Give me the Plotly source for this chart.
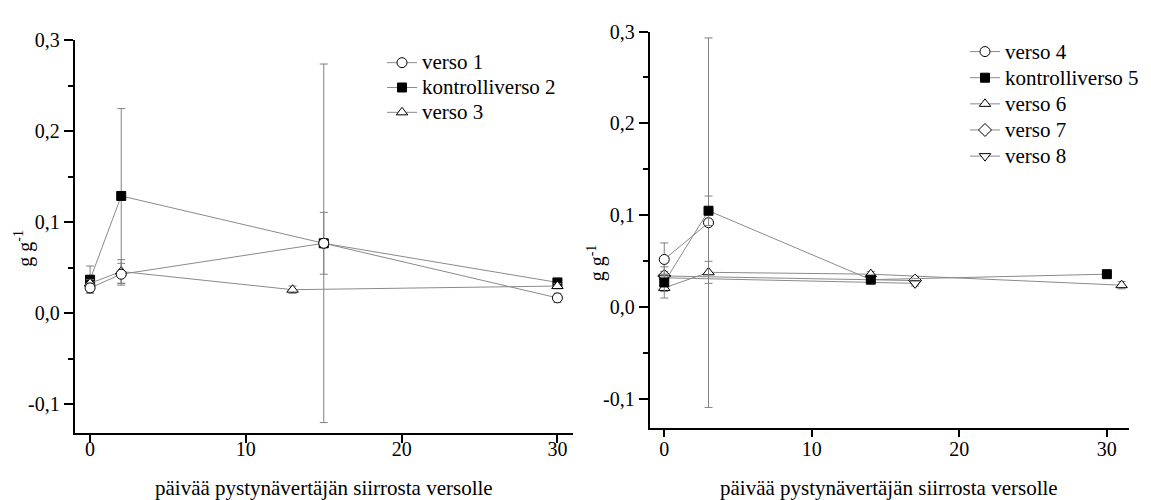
import plotly.graph_objects as go

# ---- left panel data ----
v1_x = [0, 2, 15, 30]
v1_y = [0.028, 0.043, 0.077, 0.017]
v1_e = [0.005, 0.012, 0.034, 0.005]

k2_x = [0, 2, 15, 30]
k2_y = [0.037, 0.129, 0.077, 0.034]
k2_e = [0.015, 0.096, 0.197, 0.003]

v3_x = [0, 2, 13, 30]
v3_y = [0.033, 0.046, 0.026, 0.030]
v3_e = [0.004, 0.013, 0.004, 0.003]

# ---- right panel data ----
v4_x = [0, 3]
v4_y = [0.052, 0.092]
v4_e = [0.018, 0.201]

k5_x = [0, 3, 14, 30]
k5_y = [0.027, 0.105, 0.030, 0.036]
k5_e = [0.017, 0.016, 0.003, 0.003]

v6_x = [0, 3, 14, 31]
v6_y = [0.021, 0.038, 0.036, 0.024]
v6_e = [0.004, 0.012, 0.003, 0.004]

v7_x = [0, 17]
v7_y = [0.034, 0.029]
v7_e = [0.005, 0.004]

v8_x = [0, 17]
v8_y = [0.032, 0.026]
v8_e = [0.004, 0.003]

y_tickvals = [-0.1, 0.0, 0.1, 0.2, 0.3]
y_ticktext = ["-0,1", "0,0", "0,1", "0,2", "0,3"]
x_tickvals = [0, 10, 20, 30]
x_title = "päivää pystynävertäjän siirrosta versolle"
y_title = "g g<sup>-1</sup>"

FONT = "Liberation Serif"
LINE = "#8a8a8a"
ERR = "#808080"
W, H = 1151, 500
LEGEND_TEXT_PX = 21


def label(name):
    # legend rows are spaced from the legend font size; the entry text itself is larger
    return f'<span style="font-size:{LEGEND_TEXT_PX}px">{name}</span>'


def series(x, y, e, name, symbol, fill, size, xa, ya, legend, rank):
    return go.Scatter(
        x=x, y=y, name=label(name), mode="lines+markers",
        xaxis=xa, yaxis=ya, legend=legend, legendrank=rank,
        line=dict(color=LINE, width=1),
        marker=dict(symbol=symbol, size=size, color=fill,
                    line=dict(color="black", width=1)),
        error_y=dict(type="data", array=e, visible=True,
                     color=ERR, thickness=1, width=4),
    )


fig = go.Figure()
# left panel (draw order chosen so circles sit on top)
fig.add_trace(series(k2_x, k2_y, k2_e, "kontrolliverso 2", "square", "black", 9, "x", "y", "legend", 2))
fig.add_trace(series(v3_x, v3_y, v3_e, "verso 3", "triangle-up", "white", 10, "x", "y", "legend", 3))
fig.add_trace(series(v1_x, v1_y, v1_e, "verso 1", "circle", "white", 10, "x", "y", "legend", 1))
# right panel
fig.add_trace(series(v6_x, v6_y, v6_e, "verso 6", "triangle-up", "white", 10, "x2", "y2", "legend2", 3))
fig.add_trace(series(v7_x, v7_y, v7_e, "verso 7", "diamond", "white", 10, "x2", "y2", "legend2", 4))
fig.add_trace(series(v8_x, v8_y, v8_e, "verso 8", "triangle-down", "white", 10, "x2", "y2", "legend2", 5))
fig.add_trace(series(v4_x, v4_y, v4_e, "verso 4", "circle", "white", 10, "x2", "y2", "legend2", 1))
fig.add_trace(series(k5_x, k5_y, k5_e, "kontrolliverso 5", "square", "black", 9, "x2", "y2", "legend2", 2))

axis_common = dict(showline=True, linecolor="black", linewidth=1.5,
                   ticks="outside", tickcolor="black", tickwidth=1.5,
                   showgrid=False, zeroline=False,
                   tickfont=dict(family=FONT, size=20, color="black"))

xdom1 = [74.5 / W, 573 / W]
xdom2 = [649.5 / W, 1129 / W]
ydom1 = [1 - 432 / H, 1 - 30 / H]
ydom2 = [1 - 426 / H, 1 - 21 / H]

yminor = dict(ticks="outside", ticklen=5, tickcolor="black", tickwidth=1.5,
              tick0=0, dtick=0.05)

fig.update_layout(
    width=W, height=H, autosize=False,
    margin=dict(l=0, r=0, t=0, b=0),
    paper_bgcolor="white", plot_bgcolor="white",
    font=dict(family=FONT, color="black"),
    xaxis=dict(domain=xdom1, range=[-1, 31], anchor="y",
               tickvals=x_tickvals, ticklen=8, ticklabelstandoff=-11,
               **axis_common),
    yaxis=dict(domain=ydom1, range=[-0.132, 0.3], anchor="x",
               tickvals=y_tickvals, ticktext=y_ticktext, ticklen=9,
               minor=yminor, **axis_common),
    xaxis2=dict(domain=xdom2, range=[-1, 31.5], anchor="y2",
                tickvals=x_tickvals, ticklen=8, ticklabelstandoff=-5,
                **axis_common),
    yaxis2=dict(domain=ydom2, range=[-0.131, 0.3], anchor="x2",
                tickvals=y_tickvals, ticktext=y_ticktext, ticklen=9,
                minor=yminor, **axis_common),
    legend=dict(x=382 / W, y=1 - 35 / H, xanchor="left", yanchor="top",
                bgcolor="rgba(0,0,0,0)", borderwidth=0, tracegroupgap=0,
                font=dict(family=FONT, size=16.8, color="black")),
    legend2=dict(x=965 / W, y=1 - 23 / H, xanchor="left", yanchor="top",
                 bgcolor="rgba(0,0,0,0)", borderwidth=0, tracegroupgap=0,
                 font=dict(family=FONT, size=17.8, color="black")),
    showlegend=True,
)

# axis titles
for xc, yc in [((xdom1[0] + xdom1[1]) / 2, 1 - 488 / H),
               ((xdom2[0] + xdom2[1]) / 2, 1 - 488 / H)]:
    fig.add_annotation(x=xc, y=yc, xref="paper", yref="paper", text=x_title,
                       xanchor="center", yanchor="middle", showarrow=False,
                       font=dict(family=FONT, size=21, color="black"))

for xc, yc in [(24 / W, 1 - 243 / H), (596 / W, 1 - 257 / H)]:
    fig.add_annotation(x=xc, y=yc, xref="paper", yref="paper", text=y_title,
                       xanchor="center", yanchor="middle",
                       textangle=-90, showarrow=False,
                       font=dict(family=FONT, size=20, color="black"))

fig.write_html("out.html")
